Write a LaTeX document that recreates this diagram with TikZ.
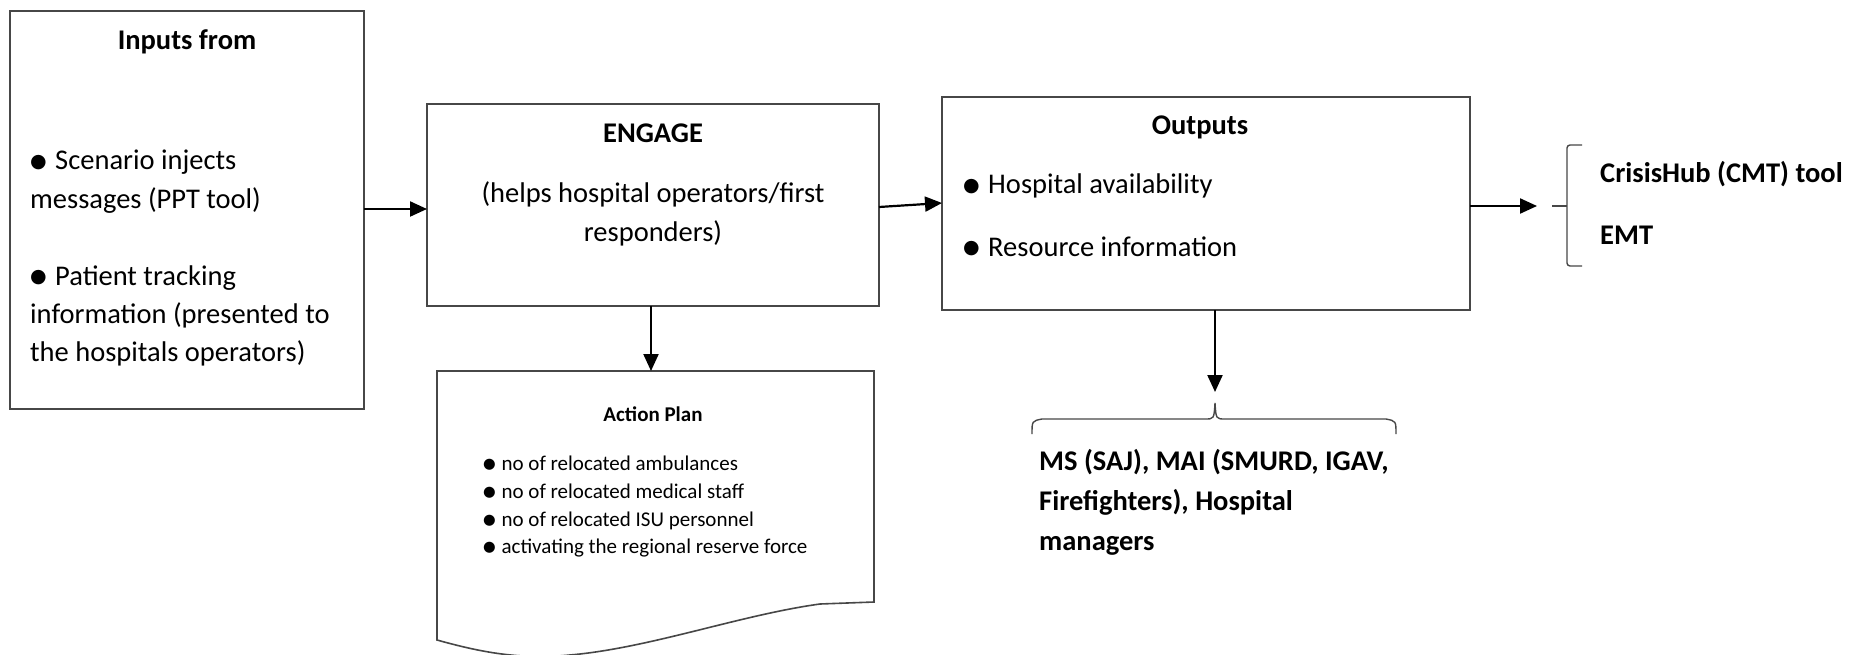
\documentclass[tikz,border=0pt]{standalone}
\usepackage{fontspec}
\setmainfont{Carlito}
\newfontfamily\symf{DejaVu Sans}
\usetikzlibrary{arrows.meta}
\newcommand\bulA{\raisebox{2.5pt}{\symf\fontsize{19}{19}\selectfont ●}\hspace{2pt}\ }
\newcommand\bulB{\raisebox{1.8pt}{\symf\fontsize{14.5}{14.5}\selectfont ●}\hspace{1pt}\ }
\begin{document}
\begin{tikzpicture}[x=1pt,y=1pt,
  box/.style={draw=black!72, line width=1.6pt, fill=white, inner sep=0pt, outer sep=0pt},
  txt/.style={inner sep=0pt, font=\fontsize{28.5}{38}\selectfont},
  btxt/.style={inner sep=0pt, font=\fontsize{28.5}{38}\selectfont\bfseries},
  stxt/.style={inner sep=0pt, font=\fontsize{21}{27}\selectfont},
  sbtxt/.style={inner sep=0pt, font=\fontsize{21}{27}\selectfont\bfseries},
  arr/.style={line width=2.2pt, -{Triangle[length=17pt,width=15pt]}},
  bracel/.style={draw=black!72, line width=1.4pt}]
\useasboundingbox (0,0) rectangle (1855,-655);
\fill[white] (0,0) rectangle (1855,-655);

% boxes
\node[box, minimum width=354pt, minimum height=398pt, anchor=north west] (inp) at (10,-11) {};
\node[box, minimum width=452pt, minimum height=202pt, anchor=north west] (eng) at (427,-104) {};
\node[box, minimum width=528pt, minimum height=213pt, anchor=north west] (out) at (942,-97) {};
\node[inner sep=0pt, outer sep=0pt, minimum width=437pt, minimum height=231pt, anchor=north west] (ap) at (437,-371) {};
\draw[box] (ap.south east) -- (ap.north east) -- (ap.north west) -- (437,-640)
  .. controls (480,-652) and (520,-660) .. (570,-655)
  .. controls (650,-648) and (740,-615) .. (820,-604) -- cycle;

% inputs text
\node[btxt, anchor=base] (inpT) at (187,-50) {Inputs from};
\node[txt, anchor=base west] (inp1) at (30,-170) {\bulA Scenario injects};
\node[txt, anchor=base west] (inp2) at (30,-208) {messages (PPT tool)};
\node[txt, anchor=base west] (inp3) at (30,-285) {\bulA Patient tracking};
\node[txt, anchor=base west] (inp4) at (30,-323) {information (presented to};
\node[txt, anchor=base west] (inp5) at (30,-361) {the hospitals operators)};

% engage text
\node[btxt, anchor=base] (engT) at (653,-143) {ENGAGE};
\node[txt, anchor=base] (eng1) at (653,-203) {(helps hospital operators/first};
\node[txt, anchor=base] (eng2) at (653,-241) {responders)};

% outputs text
\node[btxt, anchor=base] (outT) at (1200,-135) {Outputs};
\node[txt, anchor=base west] (out1) at (963,-194) {\bulA Hospital availability};
\node[txt, anchor=base west] (out2) at (963,-256) {\bulA Resource information};

% action plan text
\node[sbtxt, anchor=base] (apT) at (653,-421) {Action Plan};
\node[stxt, anchor=base west] (ap1) at (483,-470) {\bulB no of relocated ambulances};
\node[stxt, anchor=base west] (ap2) at (483,-498) {\bulB no of relocated medical staff};
\node[stxt, anchor=base west] (ap3) at (483,-526) {\bulB no of relocated ISU personnel};
\node[stxt, anchor=base west] (ap4) at (483,-553) {\bulB activating the regional reserve force};

% right targets
\node[btxt, anchor=base west] (cmt) at (1600,-183) {CrisisHub (CMT) tool};
\node[btxt, anchor=base west] (emt) at (1600,-244) {EMT};

% bottom targets
\node[btxt, anchor=base west] (ms1) at (1039,-470) {MS (SAJ), MAI (SMURD, IGAV,};
\node[btxt, anchor=base west] (ms2) at (1039,-510) {Firefighters), Hospital};
\node[btxt, anchor=base west] (ms3) at (1039,-550) {managers};

% connectors
\draw[arr] (inp.east |- 0,-209) -- (eng.west |- 0,-209);
\draw[arr] (eng.east |- 0,-207) -- (out.west |- 0,-203);
\coordinate (rb) at (1537,-206);
\draw[arr] (out.east |- rb) -- (rb);
\draw[arr] (eng.south -| 651,0) -- (ap.north -| 651,0);
\coordinate (bt) at (1215,-392);
\draw[arr] (out.south -| bt) -- (bt);

% right brace
\coordinate (rbt) at (1552,-206);
\draw[bracel] (rbt) -- (1567,-206);
\draw[bracel, rounded corners=3pt] (1582,-145) -- (1567,-145) -- (1567,-266) -- (1582,-266);

% bottom brace
\draw[bracel] (1032,-434) .. controls (1032,-421) .. (1042,-419) -- (1205,-419)
  .. controls (1214,-419) .. (1215,-403) .. controls (1216,-419) .. (1225,-419)
  -- (1386,-419) .. controls (1396,-421) .. (1396,-434);
\end{tikzpicture}
\end{document}
